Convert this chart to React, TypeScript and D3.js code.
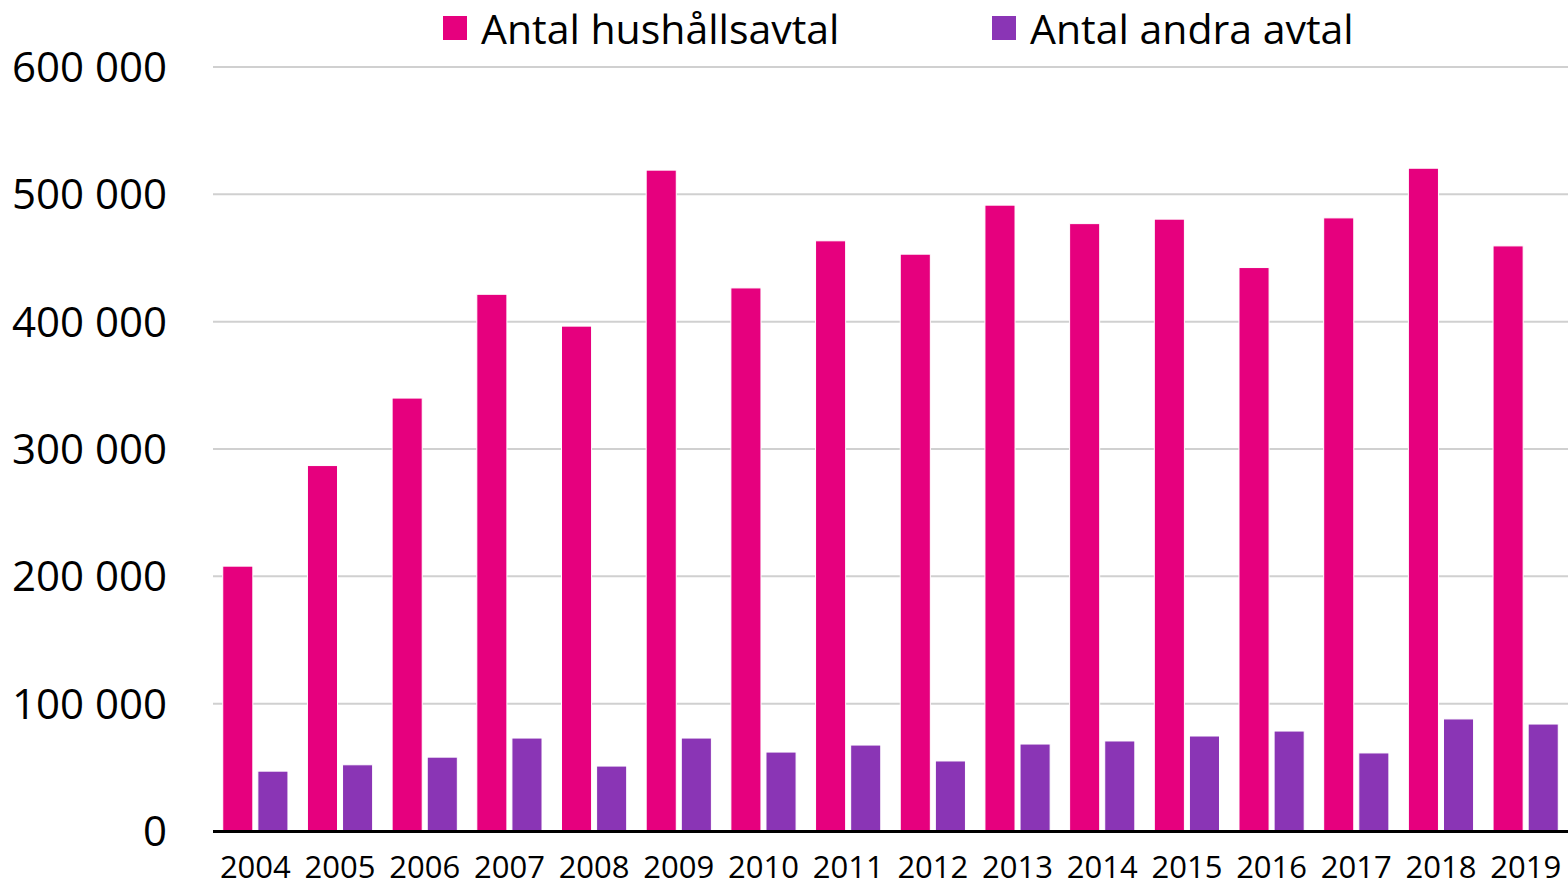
import * as d3 from "d3";
import React, { useEffect, useRef } from "react";

const years = ["2004", "2005", "2006", "2007", "2008", "2009", "2010", "2011", "2012", "2013", "2014", "2015", "2016", "2017", "2018", "2019"];
const hushall = [208000, 287000, 340000, 421500, 396500, 519000, 426500, 463500, 453000, 491500, 477000, 480500, 442500, 481500, 520500, 459500];
const andra = [47000, 52000, 58000, 73000, 51000, 73000, 62000, 67500, 55000, 68300, 70700, 74600, 78500, 61300, 88000, 84000];
const seriesNames = ["Antal hushållsavtal", "Antal andra avtal"];
const colors = ["#E6007E", "#8A35B5"];
const yTicks = [0, 100000, 200000, 300000, 400000, 500000, 600000];

const W = 1568;
const H = 887;
const FONT = "'Open Sans', sans-serif";

const fmt = (v: number) => d3.format(",")(v).replace(/,/g, " ");

const App = () => {
  const ref = useRef<SVGSVGElement>(null);

  useEffect(() => {
    document.body.style.margin = "0";
    const svg = d3.select(ref.current).attr("width", W).attr("height", H);
    svg.selectAll("*").remove();

    const left = 213;
    const right = 1568;
    const y = d3.scaleLinear().domain([0, 600000]).range([831, 67]);
    const x0 = d3.scaleBand().domain(years).range([left, right]).paddingInner(0.23).paddingOuter(0.115);
    const x1 = d3.scaleBand().domain(seriesNames).range([0, x0.bandwidth()]).paddingInner(0.143);

    // grid
    svg
      .append("g")
      .selectAll("line")
      .data(yTicks.filter((d) => d > 0))
      .join("line")
      .attr("x1", left)
      .attr("x2", right)
      .attr("y1", (d) => y(d))
      .attr("y2", (d) => y(d))
      .attr("stroke", "#D0D0D0")
      .attr("stroke-width", 2);

    // y labels
    svg
      .append("g")
      .selectAll("text")
      .data(yTicks)
      .join("text")
      .attr("x", 167)
      .attr("y", (d) => y(d) + 15)
      .attr("text-anchor", "end")
      .attr("font-family", FONT)
      .attr("font-size", 42)
      .attr("fill", "#000")
      .text((d) => fmt(d));

    const data = years.map((yr, i) => ({ year: yr, values: [hushall[i], andra[i]] }));

    const groups = svg
      .append("g")
      .selectAll("g")
      .data(data)
      .join("g")
      .attr("transform", (d) => `translate(${x0(d.year)},0)`);

    groups
      .selectAll("rect")
      .data((d) => d.values.map((v, k) => ({ v, k })))
      .join("rect")
      .attr("x", (d) => x1(seriesNames[d.k])!)
      .attr("y", (d) => y(d.v))
      .attr("width", x1.bandwidth())
      .attr("height", (d) => y(0) - y(d.v))
      .attr("fill", (d) => colors[d.k])
      .attr("stroke", "#fff")
      .attr("stroke-width", 1);

    // x axis line
    svg
      .append("line")
      .attr("x1", left)
      .attr("x2", right)
      .attr("y1", y(0) + 0.5)
      .attr("y2", y(0) + 0.5)
      .attr("stroke", "#000")
      .attr("stroke-width", 3);

    // x labels
    svg
      .append("g")
      .selectAll("text")
      .data(years)
      .join("text")
      .attr("x", (d) => x0(d)! + x0.bandwidth() / 2)
      .attr("y", 878)
      .attr("text-anchor", "middle")
      .attr("font-family", FONT)
      .attr("font-size", 31)
      .attr("fill", "#000")
      .text((d) => d);

    // legend
    const legendX = [443, 992];
    const legend = svg
      .append("g")
      .selectAll("g")
      .data(seriesNames)
      .join("g")
      .attr("transform", (_, i) => `translate(${legendX[i]},16)`);
    legend
      .append("rect")
      .attr("width", 24)
      .attr("height", 24)
      .attr("fill", (_, i) => colors[i]);
    legend
      .append("text")
      .attr("x", 38)
      .attr("y", 28)
      .attr("font-family", FONT)
      .attr("font-size", 41)
      .attr("fill", "#000")
      .text((d) => d);
  }, []);

  return <svg ref={ref} style={{ display: "block" }} />;
};

export default App;
